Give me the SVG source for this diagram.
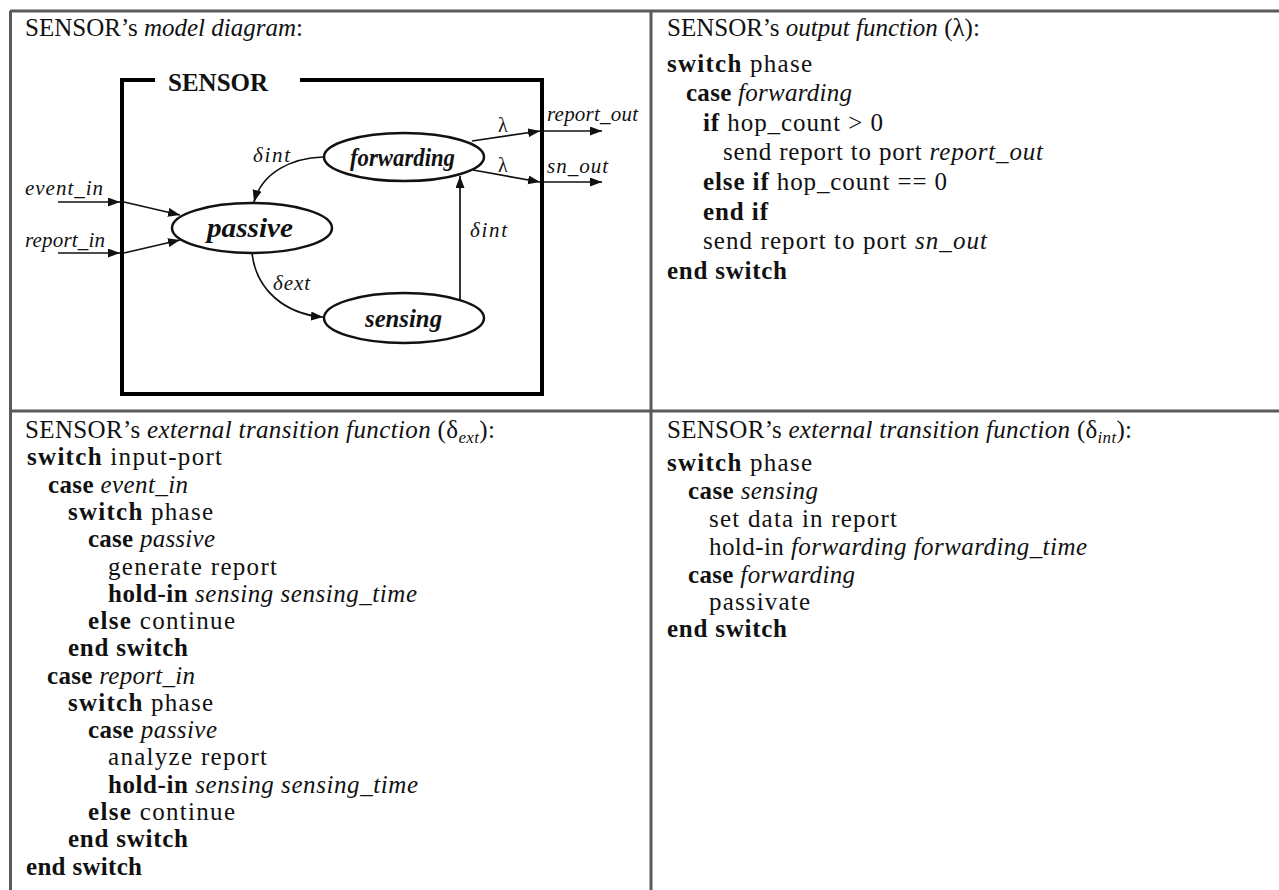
<svg xmlns="http://www.w3.org/2000/svg" width="1279" height="890" viewBox="0 0 1279 890">
<style>
.t{font-family:"Liberation Serif","Times New Roman",serif;font-size:25px;fill:#111}
.b{font-weight:bold}
.i{font-style:italic}
.sub{font-style:italic;font-size:17px}
.grid{stroke:#5a5a5a;stroke-width:3;fill:none}
.box{stroke:#000;stroke-width:4;fill:none}
.st{fill:#fff;stroke:#111;stroke-width:2.5}
.sl{font-family:"Liberation Serif","Times New Roman",serif;font-weight:bold;font-style:italic;fill:#111}
.dl{font-family:"Liberation Serif","Times New Roman",serif;font-style:italic;font-size:21px;fill:#111}
.lam{font-family:"Liberation Serif","Times New Roman",serif;font-size:20px;fill:#111}
.c{stroke:#111;stroke-width:1.7;fill:none;marker-end:url(#ah)}
</style>
<defs>
<marker id="ah" markerUnits="userSpaceOnUse" markerWidth="13" markerHeight="10" refX="12" refY="4.5" orient="auto">
<path d="M0,0 L12,4.5 L0,9 z" fill="#111"/>
</marker>
</defs>
<rect x="0" y="0" width="1279" height="890" fill="#fff"/>
<g id="table">
<line class="grid" x1="10" y1="11" x2="1279" y2="11"/>
<line class="grid" x1="10.5" y1="11" x2="10.5" y2="890"/>
<line class="grid" x1="651" y1="11" x2="651" y2="890"/>
<line class="grid" x1="10" y1="411" x2="1279" y2="411"/>
</g>

<g id="panel-model-title">
<text class="t" x="25" y="36" textLength="278" lengthAdjust="spacing">SENSOR’s <tspan class="i">model diagram</tspan>:</text>
</g>

<g id="sensor-box">
<path class="box" d="M155,80 L122,80 L122,394 L542,394 L542,80 L300,80"/>
<text class="t b" x="168" y="91" font-size="29">SENSOR</text>
</g>

<g id="connectors">
<line class="c" x1="58" y1="202" x2="120" y2="202"/>
<line class="c" x1="124" y1="202" x2="180" y2="215"/>
<line class="c" x1="58" y1="253" x2="120" y2="253"/>
<line class="c" x1="124" y1="253" x2="180" y2="240"/>
<path class="c" d="M323,157 C292,158 262,172 254,202"/>
<path class="c" d="M252,253 C256,290 285,314 323,317"/>
<line class="c" x1="460" y1="300" x2="460" y2="176"/>
<line class="c" x1="472" y1="141" x2="540" y2="131"/>
<line class="c" x1="544" y1="131" x2="602" y2="131"/>
<line class="c" x1="473" y1="170" x2="540" y2="182"/>
<line class="c" x1="544" y1="182" x2="602" y2="182"/>
<text class="dl" x="25" y="195" font-size="22" textLength="78" lengthAdjust="spacing">event_in</text>
<text class="dl" x="25" y="247" font-size="22" textLength="80" lengthAdjust="spacing">report_in</text>
<text class="dl" x="547" y="121" textLength="91" lengthAdjust="spacing">report_out</text>
<text class="dl" x="547" y="173" textLength="61" lengthAdjust="spacing">sn_out</text>
<text class="dl" x="253" y="162" textLength="37" lengthAdjust="spacing">δint</text>
<text class="dl" x="470" y="237" textLength="37" lengthAdjust="spacing">δint</text>
<text class="dl" x="273" y="290" textLength="37" lengthAdjust="spacing">δext</text>
<text class="lam" x="498" y="132">λ</text>
<text class="lam" x="498" y="172">λ</text>
</g>

<g id="node-forwarding">
<ellipse class="st" cx="404" cy="157" rx="80" ry="24"/>
<text class="sl" x="350" y="166" font-size="25" textLength="105" lengthAdjust="spacingAndGlyphs">forwarding</text>
</g>
<g id="node-passive">
<ellipse class="st" cx="252" cy="228" rx="80" ry="25"/>
<text class="sl" x="207" y="237" font-size="27" textLength="86" lengthAdjust="spacingAndGlyphs">passive</text>
</g>
<g id="node-sensing">
<ellipse class="st" cx="404" cy="318" rx="80" ry="25"/>
<text class="sl" x="365" y="327" font-size="25" textLength="77" lengthAdjust="spacingAndGlyphs">sensing</text>
</g>

<g id="panel-output">
<text class="t" x="667" y="36" font-size="22">SENSOR’s <tspan class="i">output function</tspan> (λ):</text>
<text class="t" x="667" y="72" textLength="145" lengthAdjust="spacing"><tspan class="b">switch</tspan> phase</text>
<text class="t" x="686" y="101" textLength="166" lengthAdjust="spacing"><tspan class="b">case</tspan> <tspan class="i">forwarding</tspan></text>
<text class="t" x="703" y="131" textLength="180" lengthAdjust="spacing"><tspan class="b">if</tspan> hop_count &gt; 0</text>
<text class="t" x="723" y="160" textLength="320" lengthAdjust="spacing">send report to port <tspan class="i">report_out</tspan></text>
<text class="t" x="703" y="190" textLength="244" lengthAdjust="spacing"><tspan class="b">else if</tspan> hop_count == 0</text>
<text class="t b" x="703" y="220" textLength="65" lengthAdjust="spacing">end if</text>
<text class="t" x="703" y="249" textLength="284" lengthAdjust="spacing">send report to port <tspan class="i">sn_out</tspan></text>
<text class="t b" x="667" y="279" textLength="120" lengthAdjust="spacing">end switch</text>
</g>

<g id="panel-ext">
<text class="t" x="25" y="438" textLength="470" lengthAdjust="spacing">SENSOR’s <tspan class="i">external transition function</tspan> (δ<tspan class="sub" dy="5">ext</tspan><tspan dy="-5">):</tspan></text>
<text class="t" x="27" y="465" textLength="195" lengthAdjust="spacing"><tspan class="b">switch</tspan> input-port</text>
<text class="t" x="48" y="493" textLength="140" lengthAdjust="spacing"><tspan class="b">case</tspan> <tspan class="i">event_in</tspan></text>
<text class="t" x="68" y="520" textLength="145" lengthAdjust="spacing"><tspan class="b">switch</tspan> phase</text>
<text class="t" x="88" y="547" textLength="127" lengthAdjust="spacing"><tspan class="b">case</tspan> <tspan class="i">passive</tspan></text>
<text class="t" x="108" y="575" textLength="169" lengthAdjust="spacing">generate report</text>
<text class="t" x="108" y="602" textLength="309" lengthAdjust="spacing"><tspan class="b">hold-in</tspan> <tspan class="i">sensing sensing_time</tspan></text>
<text class="t" x="88" y="629" textLength="147" lengthAdjust="spacing"><tspan class="b">else</tspan> continue</text>
<text class="t b" x="68" y="656" textLength="120" lengthAdjust="spacing">end switch</text>
<text class="t" x="47" y="684" textLength="148" lengthAdjust="spacing"><tspan class="b">case</tspan> <tspan class="i">report_in</tspan></text>
<text class="t" x="68" y="711" textLength="145" lengthAdjust="spacing"><tspan class="b">switch</tspan> phase</text>
<text class="t" x="88" y="738" textLength="129" lengthAdjust="spacing"><tspan class="b">case</tspan> <tspan class="i">passive</tspan></text>
<text class="t" x="108" y="765" textLength="159" lengthAdjust="spacing">analyze report</text>
<text class="t" x="108" y="793" textLength="310" lengthAdjust="spacing"><tspan class="b">hold-in</tspan> <tspan class="i">sensing sensing_time</tspan></text>
<text class="t" x="88" y="820" textLength="147" lengthAdjust="spacing"><tspan class="b">else</tspan> continue</text>
<text class="t b" x="68" y="847" textLength="120" lengthAdjust="spacing">end switch</text>
<text class="t b" x="26" y="875" textLength="116" lengthAdjust="spacing">end switch</text>
</g>

<g id="panel-int">
<text class="t" x="667" y="438" textLength="465" lengthAdjust="spacing">SENSOR’s <tspan class="i">external transition function</tspan> (δ<tspan class="sub" dy="5">int</tspan><tspan dy="-5">):</tspan></text>
<text class="t" x="667" y="471" textLength="145" lengthAdjust="spacing"><tspan class="b">switch</tspan> phase</text>
<text class="t" x="688" y="499" textLength="130" lengthAdjust="spacing"><tspan class="b">case</tspan> <tspan class="i">sensing</tspan></text>
<text class="t" x="709" y="527" textLength="188" lengthAdjust="spacing">set data in report</text>
<text class="t" x="709" y="555" textLength="378" lengthAdjust="spacing">hold-in <tspan class="i">forwarding forwarding_time</tspan></text>
<text class="t" x="688" y="583" textLength="167" lengthAdjust="spacing"><tspan class="b">case</tspan> <tspan class="i">forwarding</tspan></text>
<text class="t" x="709" y="610" textLength="101" lengthAdjust="spacing">passivate</text>
<text class="t b" x="667" y="637" textLength="120" lengthAdjust="spacing">end switch</text>
</g>
</svg>
